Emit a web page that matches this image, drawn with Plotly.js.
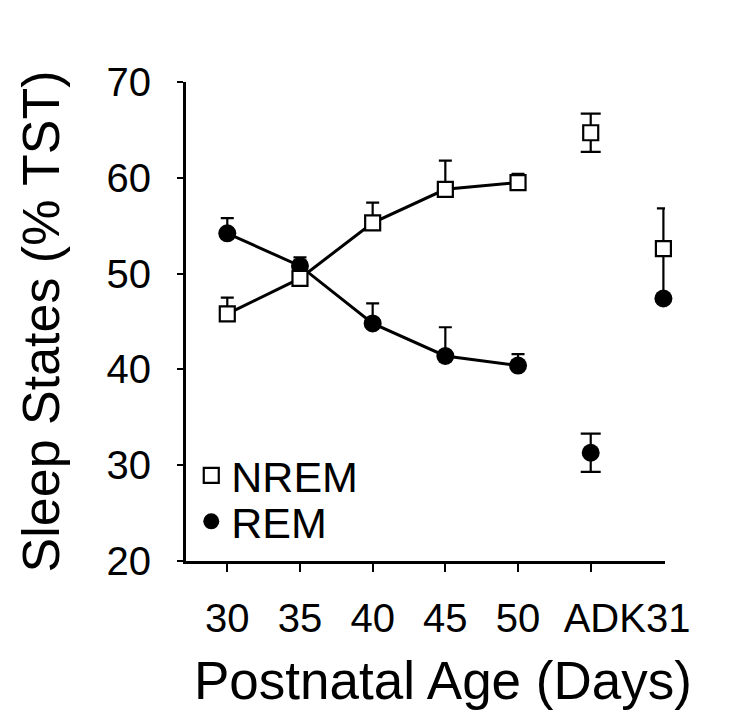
<!DOCTYPE html>
<html>
<head>
<meta charset="utf-8">
<script src="https://cdn.plot.ly/plotly-3.0.1.min.js"></script>
<style>html,body{margin:0;padding:0;background:#fff;}#chart{width:750px;height:717px;}</style>
</head>
<body>
<div id="chart"></div>
<script>
// ---- data ----
const categories = ['30', '35', '40', '45', '50', 'ADK', '31'];
const ageGroups = ['30', '35', '40', '45', '50'];
const nremMean = [45.8, 49.5, 55.3, 58.8, 59.5];
const nremErr = [1.7, 0.6, 2.1, 3.0, 0.9];
const remMean = [54.2, 50.8, 44.8, 41.4, 40.4];
const remErr = [1.6, 0.9, 2.1, 3.0, 1.2];
const adkNrem = 64.7, adkNremErr = 2.0;
const adkRem = 31.3, adkRemErr = 2.0;
const p31Nrem = 52.6, p31NremErr = 4.2;
const p31Rem = 47.4, p31RemErr = 5.2;
const tickLabels = ['30', '35', '40', '45', '50', 'ADK31'];

const idx = c => categories.indexOf(c);
const ageX = ageGroups.map(idx);
const zeros = arr => arr.map(() => 0);

const FONT = 'Arial, "Liberation Sans", Helvetica, sans-serif';
const sq = {symbol: 'square', size: 15, color: '#fff', line: {color: '#000', width: 2.2}};
const ci = {symbol: 'circle', size: 18, color: '#000', line: {color: '#000', width: 0}};
const ebLine = (plus, minus, w) => ({type: 'data', symmetric: false, array: plus, arrayminus: minus,
  color: '#000', thickness: 2.2, width: w, visible: true});

const traces = [
  // REM (drawn first so NREM squares sit on top)
  {x: ageX, y: remMean, name: 'REM', showlegend: false, mode: 'lines+markers', cliponaxis: false,
   line: {color: '#000', width: 3}, marker: ci, error_y: ebLine(remErr, zeros(remErr), 6.5)},
  {x: [idx('ADK')], y: [adkRem], name: 'REM', legend: 'legend2', showlegend: true, mode: 'markers', cliponaxis: false,
   marker: ci, error_y: ebLine([adkRemErr], [adkRemErr], 10)},
  {x: [idx('31')], y: [p31Rem], name: 'REM', mode: 'markers', showlegend: false, cliponaxis: false, marker: ci,
   error_y: ebLine([p31RemErr], [0], 5)},
  // NREM
  {x: ageX, y: nremMean, name: 'NREM', showlegend: false, mode: 'lines+markers', cliponaxis: false,
   line: {color: '#000', width: 3}, marker: sq, error_y: ebLine(nremErr, zeros(nremErr), 6.5)},
  {x: [idx('ADK')], y: [adkNrem], name: 'NREM', legend: 'legend', showlegend: true, mode: 'markers', cliponaxis: false,
   marker: sq, error_y: ebLine([adkNremErr], [adkNremErr], 10)},
  {x: [idx('31')], y: [p31Nrem], name: 'NREM', mode: 'markers', showlegend: false, cliponaxis: false, marker: sq,
   error_y: ebLine([p31NremErr], [0], 6.5)}
];

// label positions: one per age group, last label centred between the last two groups
const tickVals = ageX.concat([(idx('ADK') + idx('31')) / 2]);
const majorTicks = ageX.concat([idx('ADK')]);

const layout = {
  width: 750, height: 717,
  margin: {l: 186, r: 85, t: 82, b: 156, pad: 0},
  paper_bgcolor: '#fff', plot_bgcolor: '#fff',
  font: {family: FONT, color: '#000'},
  showlegend: true,
  xaxis: {
    range: [-0.568, 6.022], showgrid: false, zeroline: false,
    showline: true, linecolor: '#000', linewidth: 3,
    tickmode: 'array', tickvals: tickVals, ticktext: tickLabels, ticks: '',
    tickfont: {size: 40, family: FONT, color: '#000'}, ticklabelstandoff: 20,
    minor: {tickmode: 'array', tickvals: majorTicks, ticks: 'outside', ticklen: 8, tickwidth: 2, tickcolor: '#000', showgrid: false}
  },
  yaxis: {
    range: [20, 70], showgrid: false, zeroline: false,
    showline: true, linecolor: '#000', linewidth: 3,
    tickmode: 'linear', tick0: 20, dtick: 10,
    ticks: 'outside', ticklen: 6, tickwidth: 2, tickcolor: '#000',
    tickfont: {size: 40, family: FONT, color: '#000'}, ticklabelstandoff: 18,
    title: {text: 'Sleep States (% TST)', font: {size: 52, family: FONT, color: '#000'}, standoff: 31}
  },
  legend: {x: 0.011, y: 0.1785, xanchor: 'left', yanchor: 'middle', bgcolor: 'rgba(0,0,0,0)',
    font: {size: 43, family: FONT, color: '#000'}, borderwidth: 0},
  legend2: {x: 0.011, y: 0.0827, xanchor: 'left', yanchor: 'middle', bgcolor: 'rgba(0,0,0,0)',
    font: {size: 43, family: FONT, color: '#000'}, borderwidth: 0},
  annotations: [{
    text: 'Postnatal Age (Days)', xref: 'paper', yref: 'paper',
    x: (443 - 186) / 479, y: -(680 - 561) / 479, xanchor: 'center', yanchor: 'middle',
    showarrow: false, font: {size: 53, family: FONT, color: '#000'}
  }]
};

Plotly.newPlot('chart', traces, layout, {displayModeBar: false, staticPlot: true});
</script>
</body>
</html>
